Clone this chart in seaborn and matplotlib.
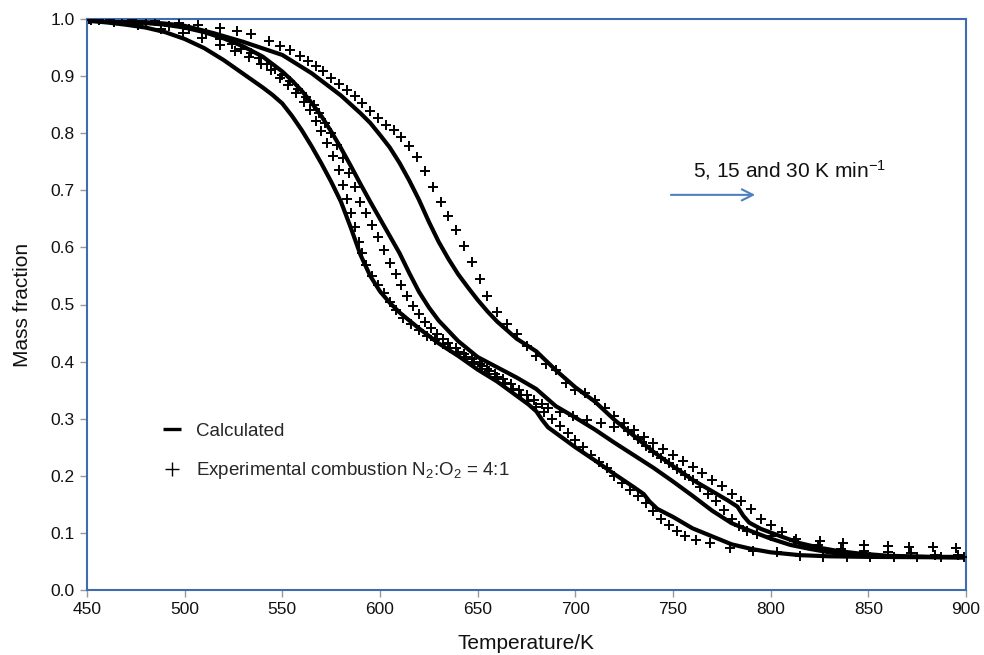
import numpy as np
import pandas as pd
import matplotlib
matplotlib.use("Agg")
import matplotlib.pyplot as plt
import seaborn as sns
from matplotlib.lines import Line2D

# ---------------- data ----------------
calc5_T = [450, 460, 470, 480, 490, 500, 510, 520, 530, 540, 545, 550, 555, 560, 565, 570, 575, 580, 585, 590, 595, 600, 605, 610, 620, 630, 640, 650, 660, 670, 676, 680, 683, 686, 690, 700, 710, 720, 730, 735, 738, 742, 750, 760, 770, 780, 790, 800, 815, 830, 850, 900]
calc5_m = [0.997, 0.994, 0.99, 0.985, 0.977, 0.965, 0.949, 0.928, 0.904, 0.880, 0.867, 0.852, 0.830, 0.805, 0.777, 0.747, 0.715, 0.680, 0.635, 0.587, 0.550, 0.523, 0.503, 0.486, 0.458, 0.432, 0.410, 0.386, 0.365, 0.340, 0.325, 0.313, 0.298, 0.285, 0.275, 0.250, 0.227, 0.203, 0.180, 0.168, 0.155, 0.142, 0.128, 0.108, 0.094, 0.080, 0.072, 0.066, 0.061, 0.059, 0.058, 0.057]

calc15_T = [450, 470, 490, 500, 510, 520, 530, 540, 550, 555, 560, 565, 570, 575, 580, 585, 590, 595, 600, 605, 610, 615, 620, 625, 630, 640, 650, 660, 670, 680, 690, 700, 710, 720, 730, 740, 750, 760, 770, 780, 790, 800, 810, 820, 830, 840, 860, 900]
calc15_m = [0.998, 0.996, 0.99, 0.985, 0.977, 0.966, 0.952, 0.934, 0.908, 0.892, 0.874, 0.853, 0.830, 0.803, 0.774, 0.743, 0.711, 0.680, 0.650, 0.620, 0.590, 0.555, 0.522, 0.495, 0.472, 0.436, 0.408, 0.390, 0.372, 0.352, 0.322, 0.302, 0.281, 0.258, 0.236, 0.214, 0.190, 0.165, 0.139, 0.117, 0.103, 0.090, 0.079, 0.072, 0.066, 0.062, 0.059, 0.057]

calc30_T = [450, 470, 490, 500, 515, 530, 550, 565, 580, 590, 595, 600, 605, 610, 615, 620, 625, 630, 635, 640, 645, 650, 655, 660, 670, 680, 690, 700, 710, 720, 730, 740, 750, 760, 770, 778, 783, 786, 789, 795, 806, 815, 825, 835, 845, 860, 880, 900]
calc30_m = [0.999, 0.997, 0.992, 0.988, 0.975, 0.960, 0.937, 0.905, 0.866, 0.835, 0.818, 0.797, 0.775, 0.748, 0.717, 0.683, 0.645, 0.610, 0.580, 0.553, 0.530, 0.508, 0.488, 0.470, 0.440, 0.418, 0.385, 0.355, 0.330, 0.298, 0.270, 0.242, 0.217, 0.193, 0.173, 0.157, 0.146, 0.130, 0.118, 0.107, 0.093, 0.082, 0.074, 0.068, 0.064, 0.060, 0.058, 0.058]

exp5_T = [452, 464, 476, 488, 499, 509, 518, 526, 533, 539, 544, 549, 553, 557, 561, 564, 567, 570, 573, 576, 579, 581, 583, 585, 587, 589, 591, 593, 596, 599, 602, 605, 608, 612, 616, 620, 624, 628, 632, 636, 640, 644, 648, 652, 656, 660, 664, 668, 672, 676, 680, 684, 688, 692, 696, 700, 704, 708, 712, 716, 720, 724, 728, 732, 736, 740, 744, 748, 752, 756, 762, 769, 779, 791, 803, 815, 827, 839, 851, 863, 875, 887, 899]
exp5_m = [0.998, 0.995, 0.990, 0.983, 0.975, 0.966, 0.955, 0.944, 0.933, 0.921, 0.910, 0.897, 0.885, 0.870, 0.855, 0.840, 0.822, 0.803, 0.783, 0.760, 0.735, 0.710, 0.685, 0.660, 0.635, 0.610, 0.590, 0.570, 0.550, 0.535, 0.520, 0.505, 0.490, 0.477, 0.465, 0.455, 0.445, 0.437, 0.430, 0.423, 0.416, 0.408, 0.400, 0.392, 0.383, 0.373, 0.363, 0.352, 0.341, 0.331, 0.321, 0.311, 0.300, 0.288, 0.275, 0.262, 0.250, 0.237, 0.225, 0.213, 0.200, 0.188, 0.176, 0.165, 0.152, 0.138, 0.125, 0.113, 0.103, 0.095, 0.088, 0.082, 0.074, 0.068, 0.066, 0.060, 0.058, 0.058, 0.057, 0.057, 0.057, 0.057, 0.057]

exp15_T = [456, 468, 480, 492, 502, 511, 518, 524, 529, 534, 538, 542, 546, 550, 554, 558, 562, 566, 569, 572, 575, 578, 581, 584, 587, 590, 593, 596, 599, 602, 605, 608, 611, 614, 617, 620, 623, 626, 629, 632, 635, 639, 643, 647, 651, 655, 659, 663, 667, 671, 675, 679, 683, 686, 692, 699, 706, 713, 720, 727, 732, 736, 740, 744, 748, 752, 756, 760, 764, 768, 772, 776, 780, 784, 788, 793, 800, 812, 824, 836, 848, 860, 872, 884, 896]
exp15_m = [0.998, 0.996, 0.993, 0.988, 0.982, 0.975, 0.965, 0.956, 0.948, 0.940, 0.931, 0.922, 0.913, 0.902, 0.891, 0.878, 0.864, 0.850, 0.835, 0.818, 0.800, 0.780, 0.757, 0.730, 0.705, 0.680, 0.660, 0.640, 0.618, 0.595, 0.573, 0.553, 0.535, 0.515, 0.497, 0.483, 0.470, 0.458, 0.448, 0.440, 0.432, 0.423, 0.414, 0.405, 0.396, 0.387, 0.378, 0.369, 0.360, 0.351, 0.342, 0.333, 0.325, 0.318, 0.312, 0.305, 0.298, 0.292, 0.286, 0.279, 0.265, 0.252, 0.242, 0.232, 0.222, 0.212, 0.202, 0.192, 0.181, 0.168, 0.155, 0.140, 0.124, 0.112, 0.104, 0.098, 0.094, 0.086, 0.078, 0.072, 0.068, 0.066, 0.064, 0.062, 0.061]

exp30_T = [451, 462, 473, 485, 497, 507, 518, 527, 534, 543, 549, 554, 559, 563, 567, 571, 575, 579, 583, 587, 591, 595, 599, 603, 607, 611, 615, 619, 623, 627, 631, 635, 639, 643, 647, 651, 655, 660, 665, 670, 675, 680, 685, 690, 695, 700, 705, 710, 715, 720, 725, 730, 735, 740, 745, 750, 755, 760, 765, 770, 775, 780, 785, 790, 795, 800, 806, 813, 825, 837, 848, 860, 871, 883, 895]
exp30_m = [1.0, 1.0, 1.0, 0.997, 0.993, 0.990, 0.985, 0.979, 0.973, 0.962, 0.953, 0.945, 0.935, 0.927, 0.918, 0.909, 0.897, 0.887, 0.876, 0.866, 0.853, 0.839, 0.827, 0.815, 0.805, 0.793, 0.778, 0.758, 0.733, 0.705, 0.680, 0.655, 0.630, 0.603, 0.575, 0.545, 0.515, 0.487, 0.465, 0.448, 0.428, 0.410, 0.396, 0.385, 0.362, 0.350, 0.345, 0.332, 0.318, 0.305, 0.292, 0.280, 0.268, 0.257, 0.247, 0.236, 0.226, 0.215, 0.205, 0.193, 0.182, 0.168, 0.155, 0.142, 0.125, 0.113, 0.102, 0.090, 0.085, 0.082, 0.079, 0.077, 0.076, 0.075, 0.074]

x_ticks = [450, 500, 550, 600, 650, 700, 750, 800, 850, 900]
y_ticks = [0.0, 0.1, 0.2, 0.3, 0.4, 0.5, 0.6, 0.7, 0.8, 0.9, 1.0]

# ---------------- frames ----------------
calc = pd.concat([
    pd.DataFrame({"T": calc5_T, "m": calc5_m, "rate": "5"}),
    pd.DataFrame({"T": calc15_T, "m": calc15_m, "rate": "15"}),
    pd.DataFrame({"T": calc30_T, "m": calc30_m, "rate": "30"}),
], ignore_index=True)
exp = pd.concat([
    pd.DataFrame({"T": exp5_T, "m": exp5_m, "rate": "5"}),
    pd.DataFrame({"T": exp15_T, "m": exp15_m, "rate": "15"}),
    pd.DataFrame({"T": exp30_T, "m": exp30_m, "rate": "30"}),
], ignore_index=True)

sns.set_theme(style="white")
plt.rcParams["font.family"] = ["Liberation Sans", "DejaVu Sans"]
plt.rcParams["mathtext.fontset"] = "custom"
plt.rcParams["mathtext.rm"] = "Liberation Sans"
plt.rcParams["mathtext.it"] = "Liberation Sans:italic"

fig = plt.figure(figsize=(9.84, 6.55), dpi=100)
ax = fig.add_axes([87/984, 65/655, 879/984, 571/655])

sns.lineplot(data=calc, x="T", y="m", units="rate", estimator=None, sort=False,
             color="black", linewidth=3.0, ax=ax, legend=False)
sns.scatterplot(data=exp, x="T", y="m", marker="+", color="black", s=50,
                linewidth=1.4, ax=ax, legend=False, zorder=3)

ax.set_xlim(450, 900)
ax.set_ylim(0.0, 1.0)
ax.set_xticks(x_ticks)
ax.set_xticklabels([str(t) for t in x_ticks])
ax.set_yticks(y_ticks)
ax.set_yticklabels([f"{t:.1f}" for t in y_ticks])
ax.tick_params(axis="both", which="both", direction="out", length=5, width=1,
               color="#999999", labelsize=12.5, labelcolor="#111111",
               bottom=True, left=True, pad=4)
for sp in ax.spines.values():
    sp.set_visible(True)
    sp.set_color("#3F6CB0")
    sp.set_linewidth(1.5)

ax.set_xlabel("Temperature/K", fontsize=15, labelpad=12, color="#111111")
ax.set_ylabel("Mass fraction", fontsize=15, labelpad=13, color="#111111")

# legend
handles = [
    Line2D([], [], color="black", linestyle="none", marker="_", markersize=13, markeredgewidth=2.4),
    Line2D([], [], color="black", linestyle="none", marker="+", markersize=10, markeredgewidth=1.0),
]
labels = ["Calculated", r"Experimental combustion N$_2$:O$_2$ = 4:1"]
ax.legend(handles, labels, loc="upper left", bbox_to_anchor=(0.0774, 0.3065),
          frameon=False, fontsize=13.5, handlelength=1.0, handletextpad=0.8,
          labelspacing=1.1, borderaxespad=0)

# annotation
ax.annotate("", xy=(793.5, 0.692), xytext=(747.5, 0.692),
            arrowprops=dict(arrowstyle="->", color="#4F81BD", lw=1.5,
                            mutation_scale=20))
ax.text(760, 0.735, r"5, 15 and 30 K min$^{\mathregular{-1}}$", fontsize=15,
        ha="left", va="center", color="#111111")

fig.savefig("out.png", dpi=100)
